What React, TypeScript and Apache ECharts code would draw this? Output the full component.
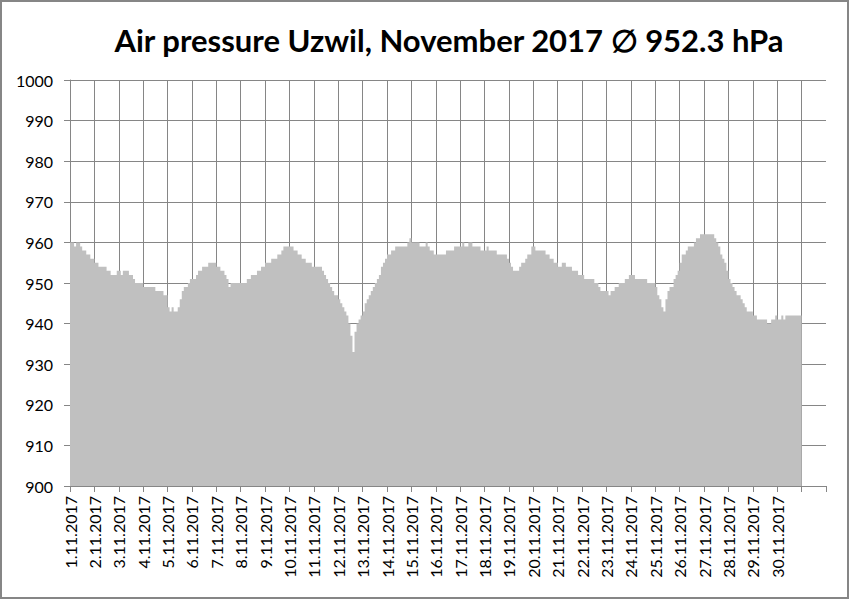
import React, { useEffect, useRef } from "react";
import * as echarts from "echarts";

const TITLE = "Air pressure Uzwil, November 2017 \u2205 952.3 hPa";

const DAY_LABELS = [
  "1.11.2017", "2.11.2017", "3.11.2017", "4.11.2017", "5.11.2017",
  "6.11.2017", "7.11.2017", "8.11.2017", "9.11.2017", "10.11.2017",
  "11.11.2017", "12.11.2017", "13.11.2017", "14.11.2017", "15.11.2017",
  "16.11.2017", "17.11.2017", "18.11.2017", "19.11.2017", "20.11.2017",
  "21.11.2017", "22.11.2017", "23.11.2017", "24.11.2017", "25.11.2017",
  "26.11.2017", "27.11.2017", "28.11.2017", "29.11.2017", "30.11.2017",
];

const Y_MIN = 900;
const Y_MAX = 1000;
const Y_STEP = 10;
const SAMPLES_PER_DAY = 12; // 2-hourly readings (hPa)

const days01to05 = [
  960, 960, 959, 960, 960, 959, 958, 958, 957, 957, 956, 956,
  955, 955, 954, 954, 954, 954, 953, 953, 952, 952, 952, 953,
  953, 952, 953, 953, 953, 952, 952, 951, 950, 950, 950, 950,
  949, 949, 949, 949, 949, 949, 948, 948, 948, 948, 947, 947,
  944, 943, 944, 943, 943, 944, 946, 948, 949, 949, 950, 951,
];
const days06to10 = [
  951, 951, 952, 953, 953, 954, 954, 954, 955, 955, 955, 955,
  954, 954, 953, 953, 952, 951, 949, 950, 950, 950, 950, 950,
  950, 950, 950, 951, 951, 952, 952, 952, 953, 953, 954, 954,
  955, 955, 955, 956, 956, 956, 957, 957, 958, 959, 959, 959,
  959, 959, 958, 958, 957, 957, 956, 956, 955, 955, 955, 954,
];
const days11to15 = [
  954, 954, 954, 954, 953, 952, 951, 950, 949, 948, 947, 947,
  946, 945, 944, 943, 942, 940, 937, 933, 938, 940, 941, 942,
  943, 945, 946, 947, 948, 949, 950, 951, 952, 954, 955, 956,
  957, 957, 958, 958, 959, 959, 959, 959, 959, 959, 960, 961,
  960, 960, 960, 960, 959, 959, 959, 960, 959, 958, 958, 957,
];
const days16to20 = [
  957, 957, 957, 957, 957, 958, 958, 958, 958, 959, 959, 959,
  959, 960, 959, 959, 960, 960, 959, 959, 959, 959, 958, 958,
  958, 959, 958, 958, 958, 958, 957, 957, 957, 957, 957, 956,
  955, 954, 953, 953, 953, 954, 955, 955, 956, 957, 957, 959,
  959, 958, 958, 958, 958, 958, 957, 957, 956, 956, 955, 955,
];
const days21to25 = [
  954, 954, 955, 955, 954, 954, 954, 953, 953, 953, 952, 952,
  952, 951, 951, 951, 951, 951, 950, 950, 949, 948, 948, 948,
  948, 947, 948, 948, 949, 949, 950, 950, 950, 951, 951, 952,
  952, 952, 951, 951, 951, 951, 951, 951, 950, 950, 950, 950,
  949, 947, 946, 944, 943, 946, 948, 949, 949, 951, 952, 953,
];
const days26to30 = [
  955, 957, 957, 958, 959, 959, 959, 960, 961, 961, 962, 962,
  962, 962, 962, 962, 962, 961, 960, 959, 957, 956, 955, 953,
  951, 950, 949, 948, 947, 947, 946, 945, 944, 943, 943, 943,
  942, 942, 941, 941, 941, 941, 941, 940, 940, 941, 941, 942,
  941, 941, 942, 941, 942, 942, 942, 942, 942, 942, 942, 942,
];

const FONT = "Lato, 'Open Sans', sans-serif";
const GRID_COLOR = "#868686";

export default function App() {
  const ref = useRef<HTMLDivElement>(null);

  useEffect(() => {
    document.body.style.margin = "0";
    if (!ref.current) return;
    const chart = echarts.init(ref.current, undefined, { renderer: "svg" });

    const values = [
      ...days01to05,
      ...days06to10,
      ...days11to15,
      ...days16to20,
      ...days21to25,
      ...days26to30,
    ];
    const data: number[][] = values.map((v, i) => [i / SAMPLES_PER_DAY, v]);
    data.push([values.length / SAMPLES_PER_DAY, values[values.length - 1]]);

    chart.setOption({
      animation: false,
      backgroundColor: "#ffffff",
      title: {
        text: TITLE,
        left: 444,
        top: 19,
        textAlign: "center",
        textStyle: {
          fontFamily: FONT,
          fontWeight: "bold",
          fontSize: 31,
          color: "#000000",
        },
      },
      grid: {
        left: 70,
        top: 80,
        width: 756,
        height: 406,
        containLabel: false,
      },
      xAxis: {
        type: "value",
        min: 0,
        max: 31,
        interval: 1,
        axisLine: { show: true, lineStyle: { color: GRID_COLOR, width: 1 } },
        axisTick: { show: true, length: 6, lineStyle: { color: GRID_COLOR } },
        axisLabel: {
          rotate: 90,
          margin: 10,
          showMinLabel: true,
          showMaxLabel: true,
          fontFamily: FONT,
          fontSize: 16,
          color: "#000000",
          formatter: (v: number) => DAY_LABELS[Math.round(v)] ?? "",
        },
        splitLine: {
          show: true,
          showMaxLine: false,
          lineStyle: { color: GRID_COLOR, width: 1 },
        },
      },
      yAxis: {
        type: "value",
        min: Y_MIN,
        max: Y_MAX,
        interval: Y_STEP,
        axisLine: { show: true, lineStyle: { color: GRID_COLOR, width: 1 } },
        axisTick: { show: true, length: 6, lineStyle: { color: GRID_COLOR } },
        axisLabel: {
          margin: 17,
          fontFamily: FONT,
          fontSize: 16,
          color: "#000000",
          formatter: (v: number) => String(Math.round(v)),
        },
        splitLine: { show: true, lineStyle: { color: GRID_COLOR, width: 1 } },
      },
      series: [
        {
          type: "line",
          step: "end",
          data,
          symbol: "none",
          lineStyle: { width: 0, opacity: 0 },
          areaStyle: { color: "#c0c0c0", opacity: 1, origin: "start" },
        },
      ],
      graphic: [
        {
          type: "rect",
          silent: true,
          shape: { x: 1, y: 1, width: 847, height: 597 },
          style: { fill: "none", stroke: "#868686", lineWidth: 2 },
        },
      ],
    });

    return () => chart.dispose();
  }, []);

  return <div ref={ref} style={{ width: 850, height: 600 }} />;
}
